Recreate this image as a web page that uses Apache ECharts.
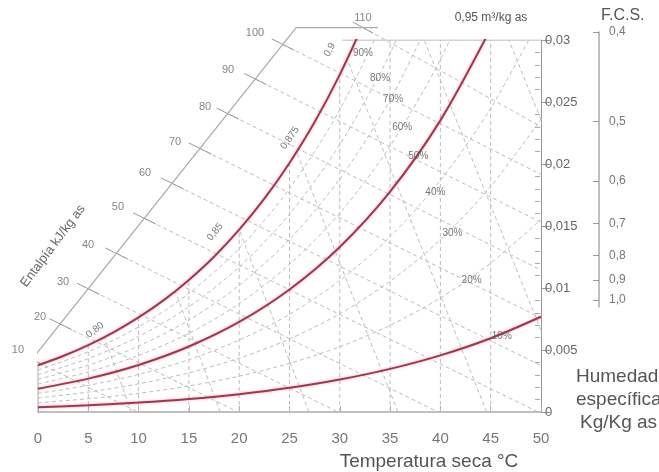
<!DOCTYPE html>
<html><head><meta charset="utf-8">
<script src="https://cdn.jsdelivr.net/npm/echarts@6/dist/echarts.min.js"></script>
<style>html,body{margin:0;padding:0;background:#fff}#c{width:659px;height:472px}</style>
</head><body><div id="c"></div><script>
// ---------- data ----------
const tempTicks = [0,5,10,15,20,25,30,35,40,45,50];
const humTicks = [0,0.005,0.01,0.015,0.02,0.025,0.03];
const fcsTicks = [0.4,0.5,0.6,0.7,0.8,0.9,1.0];

// saturation (100 %) curve
const satT  = [0,2.5,5,7.5,10,12.5,15,17.5,20,22.5,25,27.5,30,32.5];
const rh100 = [0.00377,0.00452,0.00540,0.00643,0.00763,0.00902,0.01065,0.01252,0.01470,0.01720,0.02008,0.02338,0.02721,0.03159];
// other relative humidity curves, at T = 0,5,10,...
const rhT  = [0,5,10,15,20,25,30,35,40,45,50];
const rh90 = [0.00339,0.00486,0.00686,0.00957,0.01320,0.01802,0.02438,0.03274];
const rh80 = [0.00302,0.00431,0.00609,0.00849,0.01170,0.01596,0.02158,0.02893,0.03850];
const rh70 = [0.00264,0.00377,0.00532,0.00741,0.01022,0.01392,0.01880,0.02517,0.03344];
const rh60 = [0.00226,0.00323,0.00456,0.00634,0.00874,0.01190,0.01604,0.02145,0.02844,0.03747];
const rh50 = [0.00188,0.00269,0.00379,0.00528,0.00726,0.00988,0.01331,0.01777,0.02352,0.03091];
const rh40 = [0.00150,0.00215,0.00303,0.00422,0.00580,0.00788,0.01060,0.01414,0.01868,0.02449,0.03188];
const rh30 = [0.00113,0.00161,0.00227,0.00316,0.00434,0.00589,0.00792,0.01054,0.01390,0.01819,0.02361];
const rh20 = [0.00075,0.00107,0.00151,0.00210,0.00289,0.00392,0.00526,0.00699,0.00920,0.01201,0.01554];
const rh10 = [0.00038,0.00054,0.00076,0.00105,0.00144,0.00195,0.00262,0.00348,0.00457,0.00595,0.00768];

const rhLabels = ['90%','80%','70%','60%','50%','40%','30%','20%','10%'];
const rhLabelT = [32.3,34.0,35.3,36.2,37.8,39.5,41.2,43.1,46.1];
const rhLabelW = [0.0289,0.0269,0.0252,0.0230,0.0206,0.0177,0.0144,0.0106,0.0061];

// dry-bulb lines (top end on the saturation curve or chart top)
const dryT    = [5,10,15,20,25,30,35,40,45];
const dryTopW = [0.0054,0.0076,0.01065,0.0147,0.0201,0.0272,0.03,0.03,0.03];

// enthalpy lines kJ/kg
const enthH      = [10,20,30,40,50,60,70,80,90,100,110];
const enthStartT = [-0.57,2.23,5.01,7.81,10.58,13.35,16.11,18.87,21.61,24.34,32.3];
const enthStartW = [0.00423,0.00709,0.00993,0.01278,0.01561,0.01843,0.02125,0.02406,0.02685,0.02964,0.0310];
const enthEndT   = [9.94,19.88,29.82,39.76,49.70,50,50,50,50,50,50];
const enthEndW   = [0,0,0,0,0,0.00374,0.00759,0.01145,0.01530,0.01916,0.02301];
const enthLabT   = [-1.99,0.2,2.49,4.97,7.95,10.64,13.62,16.6,18.89,21.57,32.3];
const enthLabW   = [0.0050,0.00766,0.01048,0.01347,0.01653,0.01927,0.02177,0.0246,0.02758,0.03056,0.03177];
// enthalpy scale axis (bottom, top corner, right end)
const scaleT = [-0.75,25.66,33.8];
const scaleW = [0.0041,0.0310,0.0310];

// specific volume lines m3/kg
const volBotT = [9.29,18.11,26.94,35.77,44.6,50,50];
const volBotW = [0,0,0,0,0,0.00658,0.02357];
const volTopT = [6.6,13.64,20.0,25.7,30.75,38.39,46.81];
const volTopW = [0.0060,0.00974,0.0147,0.0210,0.0284,0.03,0.03];
const volLabels = ['0,80','0,85','0,875','0,9'];
const volLabT   = [5.67,17.6,25.05,29.0];
const volLabW   = [0.00661,0.01452,0.0221,0.0292];
const volLabRot = [38,50,55,60];

// ---------- chart ----------
const FONT = '"Liberation Sans", Arial, sans-serif';
const dash = {color:'#bdbdbd', width:1, type:[4,3]};
const red  = {color:'#a3354d', width:2, shadowColor:'rgba(235,120,140,0.55)', shadowBlur:3};
const gray = {color:'#a8a8a8', width:1};
const series = [];
function L(data, style, extra){ series.push(Object.assign({type:'line', data:data, symbol:'none', silent:true, animation:false, lineStyle:style, z:2}, extra||{})); }
const pair = (xs, ys) => ys.map((y,i)=>[xs[i], y]);

L([[0,0],[0,rh100[0]]], gray);
dryT.forEach((t,i)=> L([[t,0],[t,dryTopW[i]]], dash));
L([[30.2,0.03],[50,0.03]], gray);
[rh90,rh80,rh70,rh60,rh40,rh30,rh20].forEach(a=> L(pair(rhT,a), dash, {smooth:0.3}));
enthH.forEach((h,i)=>{
  const t0=enthStartT[i], w0=enthStartW[i], t1=enthEndT[i], w1=enthEndW[i];
  L([[t0,w0],[t1,w1]], dash, {clip:false});
  const k = 0.00045/(w0-w1);
  L([[t0+(t0-t1)*k, w0+(w0-w1)*k],[t0-(t0-t1)*k, w0-(w0-w1)*k]], {color:'#999',width:1}, {clip:false});
});
L(pair(scaleT,scaleW), {color:'#aaaaaa',width:1.2}, {clip:false});
volBotT.forEach((t,i)=> L([[t,volBotW[i]],[volTopT[i],volTopW[i]]], dash));
L(pair(satT,rh100), red, {smooth:0.3, z:5});
L(pair(rhT,rh50), red, {smooth:0.3, z:5});
L(pair(rhT,rh10), red, {smooth:0.3, z:5});

function labels(names, xs, ys, style, rots){
  series.push({type:'scatter', symbolSize:0, silent:true, animation:false, clip:false, z:6,
    data: names.map((n,i)=>({name:n, value:[xs[i],ys[i]], label:{rotate: rots? rots[i]:0}})),
    label: Object.assign({show:true, position:'inside', formatter:p=>p.name, fontFamily:FONT}, style)});
}
labels(rhLabels, rhLabelT, rhLabelW, {fontSize:10, color:'#555'});
labels(enthH.map(String), enthLabT, enthLabW, {fontSize:11, color:'#666'});
labels(volLabels, volLabT, volLabW, {fontSize:10, color:'#555'}, volLabRot);
series.forEach(s=>{ s.xAxisIndex=0; s.yAxisIndex=0; });
series.push({type:'scatter', xAxisIndex:1, yAxisIndex:1, data:[], silent:true});
series.push({type:'scatter', xAxisIndex:2, yAxisIndex:2, data:[], silent:true});

const fmtW = v => v===0 ? '0' : String(+v.toFixed(3)).replace('.',',');

const option = {
  animation:false,
  backgroundColor:'#fff',
  grid:[{left:38, right:118, top:40, bottom:60},
        {left:598, width:1, top:32, height:275},
        {left:38, right:118, top:40, bottom:60}],
  xAxis:[{type:'value', gridIndex:0, min:0, max:50, interval:5,
          axisLine:{lineStyle:{color:'#aaa', width:1.5}},
          axisTick:{show:true, inside:true, length:6, lineStyle:{color:'#aaa'}},
          axisLabel:{fontSize:15, color:'#777', margin:19, fontFamily:FONT, customValues: tempTicks},
          splitLine:{show:false}},
         {type:'value', gridIndex:1, min:1, max:2, show:false, axisLine:{onZero:false}},
         {type:'value', gridIndex:2, min:100, max:150, show:false, axisLine:{onZero:false}}],
  yAxis:[{type:'value', gridIndex:0, position:'right', min:0, max:0.03, interval:0.005,
          axisLine:{show:true, onZero:false, lineStyle:{color:'#999'}},
          axisTick:{show:true, length:9, lineStyle:{color:'#999'}, customValues: humTicks},
          axisLabel:{fontSize:13, color:'#666', margin:4, fontFamily:FONT, formatter:fmtW, customValues: humTicks},
          splitLine:{show:false}},
         {type:'value', gridIndex:1, position:'right', min:-0.04, max:1.5,
          axisLine:{show:true, onZero:false, lineStyle:{color:'#aaa', width:1.5}},
          axisTick:{show:true, inside:true, length:6, lineStyle:{color:'#999'}, customValues: fcsTicks.map(s=>1/s-1)},
          axisLabel:{fontSize:12, color:'#777', margin:10, fontFamily:FONT,
                     customValues: fcsTicks.map(s=>1/s-1),
                     formatter: u => (1/(1+u)).toFixed(1).replace('.',',')},
          splitLine:{show:false}},
         {type:'value', gridIndex:2, position:'right', offset:-6, min:0, max:0.03, interval:0.005,
          axisLine:{show:false, onZero:false}, axisLabel:{show:false}, splitLine:{show:false},
          axisTick:{show:false, inside:false},
          minorTick:{show:true, splitNumber:5, length:5, lineStyle:{color:'#aaa'}}}],
  graphic:[
    {type:'text', x:429, y:462, style:{text:'Temperatura seca °C', font:'19px '+FONT, fill:'#555', align:'center', verticalAlign:'middle'}},
    {type:'text', x:576, y:377, style:{text:'Humedad', font:'19px '+FONT, fill:'#555', verticalAlign:'middle'}},
    {type:'text', x:576, y:400, style:{text:'específica', font:'19px '+FONT, fill:'#555', verticalAlign:'middle'}},
    {type:'text', x:580, y:423, style:{text:'Kg/Kg as', font:'19px '+FONT, fill:'#555', verticalAlign:'middle'}},
    {type:'text', x:601, y:16, style:{text:'F.C.S.', font:'16px '+FONT, fill:'#555', verticalAlign:'middle'}},
    {type:'text', x:491, y:18, style:{text:'0,95 m³/kg as', font:'12px '+FONT, fill:'#555', align:'center', verticalAlign:'middle'}},
    {type:'text', x:53, y:246, rotation:0.93, style:{text:'Entalpía kJ/kg as', font:'13px '+FONT, fill:'#666', align:'center', verticalAlign:'middle'}}
  ],
  series: series
};
const chart = echarts.init(document.getElementById('c'));
chart.setOption(option);
</script></body></html>
